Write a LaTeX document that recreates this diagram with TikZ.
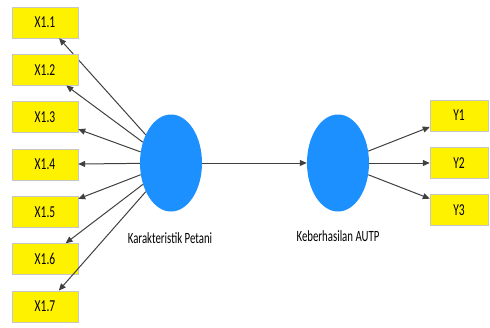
\documentclass[tikz,border=0pt]{standalone}
\usepackage{fontspec}
\setmainfont{Carlito}
\usetikzlibrary{shapes.geometric,arrows.meta}
\newcommand{\tallt}[1]{\scalebox{1}[1.45]{#1}}
\definecolor{latent}{RGB}{28,144,255}

\begin{document}
\begin{tikzpicture}[x=1pt,y=-1pt,
	ind/.style={rectangle, draw=gray!45, fill=yellow, minimum height=31pt, inner sep=0pt, font=\fontsize{11.5}{13}\selectfont},
	lv/.style={ellipse, fill=latent, minimum width=62pt, minimum height=97pt, inner sep=0pt},
	lbl/.style={font=\fontsize{10.8}{12}\selectfont},
	arr/.style={-{Triangle[length=7pt,width=6pt]}, draw=black!75, line width=1pt}]
	\useasboundingbox (0,0) rectangle (490,327);
	\node [lv] (kp) at (171,163) {};
	\node [lv] (autp) at (338,163) {};
	\node [lbl] (kplbl) at (170,238) {\tallt{Karakteristik Petani}};
	\node [lbl] (autplbl) at (338,236) {\tallt{Keberhasilan AUTP}};
	\foreach \i in {1,...,7}{
		\node [ind, minimum width=66pt] (x\i) at (45,{22.5+47.3*(\i-1)}) {\tallt{X1.\i}};
		\draw [arr] (kp) -- (x\i);
	}
	\foreach \i/\y in {1/115.5,2/163,3/210}{
		\node [ind, minimum width=58pt] (y\i) at (459,\y) {\tallt{Y\i}};
		\draw [arr] (autp) -- (y\i);
	}
	\draw [arr] (kp) -- (autp);
%	\draw [step=10, gray!20] (0,0) grid (490,327);
\end{tikzpicture}
\end{document}
